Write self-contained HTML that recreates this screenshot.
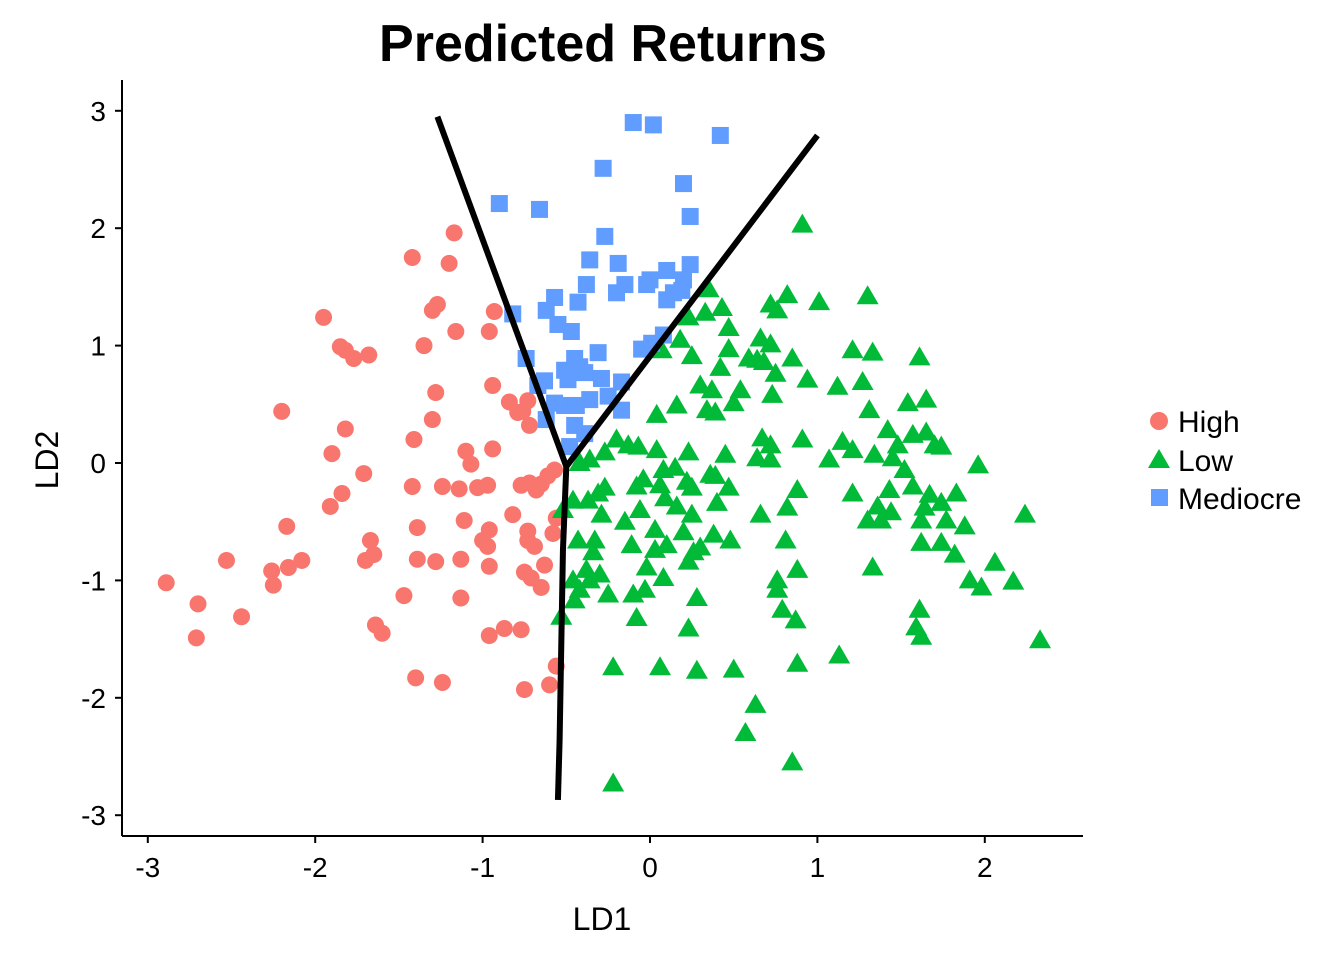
<!DOCTYPE html>
<html><head><meta charset="utf-8">
<style>
body{margin:0;background:#fff;}
svg text{font-family:"Liberation Sans",Arial,sans-serif;}
</style></head>
<body>
<svg id="chart" width="1344" height="960" viewBox="0 0 1344 960" xmlns="http://www.w3.org/2000/svg">
<rect width="1344" height="960" fill="#fff"/>
<text x="603" y="61" font-size="52" font-weight="bold" text-anchor="middle">Predicted Returns</text>
<g id="marks"></g>
<g id="axes"></g>
<text x="602" y="930" font-size="32" text-anchor="middle">LD1</text>
<text x="58" y="460" font-size="32" text-anchor="middle" transform="rotate(-90 58 460)">LD2</text>
<g>
<circle cx="1159" cy="421" r="9" fill="#F8766D"/>
<text x="1178" y="432" font-size="30">High</text>
<polygon points="1159,449 1170,468 1148,468" fill="#00BA38"/>
<text x="1178" y="471" font-size="30">Low</text>
<rect x="1151" y="489" width="17" height="17" fill="#619CFF"/>
<text x="1178" y="509" font-size="30">Mediocre</text>
</g>
</svg>
<script>
const xTicks=[-3,-2,-1,0,1,2];
const yTicks=[-3,-2,-1,0,1,2,3];
const highX=[-2.89,-2.70,-2.71,-2.44,-2.53,-2.25,-2.26,-2.16,-2.08,-2.17,-1.95,-1.85,-1.82,-1.77,-1.68,-2.20,-1.82,-1.90,-1.91,-1.84,-1.71,-1.67,-1.70,-1.65,-1.64,-1.60,-1.47,-1.40,-1.24,-1.42,-1.39,-1.39,-1.28,-1.41,-1.30,-1.28,-1.35,-1.30,-1.27,-1.42,-1.20,-1.17,-1.16,-0.96,-0.93,-0.94,-0.84,-0.79,-0.76,-0.73,-0.72,-1.10,-1.07,-1.14,-1.03,-0.97,-0.94,-1.11,-0.96,-0.97,-1.00,-1.13,-1.13,-0.96,-0.87,-0.77,-0.75,-0.60,-0.56,-0.75,-0.71,-0.65,-0.63,-0.73,-0.69,-0.73,-0.82,-0.77,-0.72,-0.68,-0.61,-0.65,-0.57,-0.56,-0.58,-0.96,-1.24];
const highY=[-1.02,-1.20,-1.49,-1.31,-0.83,-1.04,-0.92,-0.89,-0.83,-0.54,1.24,0.99,0.96,0.89,0.92,0.44,0.29,0.08,-0.37,-0.26,-0.09,-0.66,-0.83,-0.78,-1.38,-1.45,-1.13,-1.83,-1.87,-0.20,-0.55,-0.82,-0.84,0.20,0.37,0.60,1.00,1.30,1.35,1.75,1.70,1.96,1.12,1.12,1.29,0.66,0.52,0.43,0.44,0.53,0.32,0.10,-0.01,-0.22,-0.21,-0.19,0.12,-0.49,-0.57,-0.71,-0.66,-0.82,-1.15,-1.47,-1.41,-1.42,-1.93,-1.89,-1.73,-0.93,-0.98,-1.06,-0.87,-0.66,-0.71,-0.58,-0.44,-0.19,-0.17,-0.23,-0.11,-0.18,-0.06,-0.47,-0.60,-0.88,-0.20];
const medX=[-0.10,0.02,0.42,-0.28,0.20,0.24,-0.90,-0.66,-0.27,-0.36,-0.19,-0.57,-0.38,-0.43,-0.20,-0.15,-0.02,0.10,0.24,0.20,0.10,0.14,0.19,-0.82,-0.62,-0.55,-0.47,-0.31,-0.74,-0.63,-0.67,-0.51,-0.45,-0.42,-0.49,-0.39,-0.29,-0.25,-0.17,-0.57,-0.51,-0.44,-0.36,-0.45,-0.39,-0.48,-0.62,-0.17,-0.05,0.01,0.08,0.00];
const medY=[2.90,2.88,2.79,2.51,2.38,2.10,2.21,2.16,1.93,1.73,1.70,1.41,1.52,1.37,1.45,1.52,1.52,1.64,1.69,1.56,1.39,1.45,1.47,1.27,1.30,1.18,1.12,0.94,0.89,0.70,0.66,0.79,0.89,0.82,0.71,0.77,0.72,0.57,0.69,0.51,0.49,0.49,0.54,0.32,0.25,0.14,0.37,0.45,0.97,1.02,1.09,1.56];
const lowX=[0.91,0.35,0.82,1.01,1.30,0.72,0.76,0.43,0.23,0.33,0.47,0.66,0.72,1.21,1.33,1.61,0.47,0.07,0.18,0.25,0.59,0.64,0.68,0.85,0.42,0.75,0.94,1.12,1.27,0.30,0.37,0.50,0.54,0.73,0.16,0.04,0.34,0.39,1.31,1.54,1.65,1.42,1.57,1.74,1.70,1.65,-0.20,-0.13,-0.07,0.04,-0.27,-0.36,-0.42,0.08,0.15,0.23,0.45,0.67,0.72,0.72,0.64,0.91,1.07,1.15,1.21,1.34,1.48,1.45,1.52,1.96,0.39,0.47,0.36,0.22,0.25,0.06,-0.08,-0.04,-0.27,-0.31,-0.37,-0.46,-0.52,-0.29,-0.15,-0.06,0.09,0.16,0.25,0.40,0.88,0.82,1.21,1.43,1.57,1.67,1.64,1.83,1.74,1.88,1.36,1.30,1.44,1.38,1.62,1.77,1.62,1.74,2.24,0.03,0.20,0.10,0.30,0.48,0.38,0.66,0.81,-0.43,-0.33,-0.34,-0.11,0.03,-0.02,0.23,0.26,0.76,0.88,1.33,1.82,2.06,1.91,1.98,2.17,2.33,1.61,1.59,1.62,-0.38,-0.30,-0.36,-0.42,-0.46,-0.45,-0.25,-0.10,-0.03,0.08,0.28,0.76,0.79,0.87,-0.08,-0.53,0.23,0.88,1.13,-0.22,0.06,0.28,0.50,0.63,0.57,0.85,-0.22];
const lowY=[2.03,1.48,1.43,1.37,1.42,1.35,1.30,1.32,1.24,1.28,1.15,1.06,1.01,0.96,0.94,0.90,0.97,0.96,1.05,0.91,0.89,0.88,0.86,0.89,0.81,0.76,0.71,0.65,0.69,0.66,0.62,0.51,0.62,0.58,0.49,0.41,0.45,0.43,0.45,0.51,0.54,0.28,0.24,0.14,0.15,0.26,0.20,0.15,0.14,0.11,0.09,0.03,0.00,-0.06,-0.04,0.09,0.07,0.21,0.15,0.03,0.04,0.20,0.03,0.18,0.11,0.07,0.15,0.04,-0.06,-0.02,-0.11,-0.21,-0.10,-0.16,-0.21,-0.19,-0.20,-0.14,-0.21,-0.26,-0.32,-0.32,-0.40,-0.44,-0.50,-0.40,-0.30,-0.37,-0.44,-0.34,-0.23,-0.38,-0.26,-0.23,-0.20,-0.27,-0.38,-0.26,-0.34,-0.54,-0.37,-0.49,-0.42,-0.49,-0.49,-0.49,-0.68,-0.68,-0.44,-0.57,-0.59,-0.70,-0.72,-0.66,-0.61,-0.44,-0.66,-0.66,-0.66,-0.76,-0.70,-0.74,-0.89,-0.84,-0.76,-1.00,-0.91,-0.89,-0.78,-0.85,-1.00,-1.06,-1.01,-1.51,-1.25,-1.40,-1.48,-0.91,-0.95,-1.00,-1.08,-1.00,-1.17,-1.12,-1.12,-1.08,-0.98,-1.15,-1.08,-1.25,-1.34,-1.32,-1.31,-1.41,-1.71,-1.64,-1.74,-1.74,-1.77,-1.76,-2.06,-2.30,-2.55,-2.73];
const boundaryA_X=[-1.27,-0.50];const boundaryA_Y=[2.95,-0.03];
const boundaryB_X=[1.00,-0.50];const boundaryB_Y=[2.79,-0.03];
const boundaryC_X=[-0.50,-0.52,-0.54,-0.55];const boundaryC_Y=[-0.03,-0.74,-2.36,-2.87];

const NS='http://www.w3.org/2000/svg';
const sx=v=>650+v*167.4;
const sy=v=>463-v*117.4;
const marks=document.getElementById('marks');
const axes=document.getElementById('axes');
function mk(tag,attrs,parent){const e=document.createElementNS(NS,tag);for(const k in attrs)e.setAttribute(k,attrs[k]);parent.appendChild(e);return e;}

for(let i=0;i<highX.length;i++){
  const e=mk('circle',{cx:sx(highX[i]),cy:sy(highY[i]),r:8.5,fill:'#F8766D'},marks);
  
  
}
for(let i=0;i<lowX.length;i++){
  const x=sx(lowX[i]),y=sy(lowY[i]);
  const e=mk('polygon',{points:`${x},${y-11} ${x+11},${y+8} ${x-11},${y+8}`,fill:'#00BA38'},marks);
  
  
}
for(let i=0;i<medX.length;i++){
  const e=mk('rect',{x:sx(medX[i])-8.5,y:sy(medY[i])-8.5,width:17,height:17,fill:'#619CFF'},marks);
  
  
}
[[boundaryA_X,boundaryA_Y,'boundary-high-mediocre'],[boundaryB_X,boundaryB_Y,'boundary-mediocre-low'],[boundaryC_X,boundaryC_Y,'boundary-high-low']].forEach(([X,Y,n])=>{
  const e=mk('polyline',{points:X.map((v,i)=>sx(v)+','+sy(Y[i])).join(' '),fill:'none',stroke:'#000','stroke-width':6,'stroke-linejoin':'round'},marks);
  
  
});
const xl=mk('line',{x1:122,y1:836,x2:1083,y2:836,stroke:'#000','stroke-width':2},axes);


const yl=mk('line',{x1:122,y1:80,x2:122,y2:836,stroke:'#000','stroke-width':2},axes);


xTicks.forEach(t=>{
  const tk=mk('line',{x1:sx(t),y1:836,x2:sx(t),y2:843,stroke:'#000','stroke-width':2},axes);
  
  
  const tx=mk('text',{x:sx(t),y:877,'font-size':28,'text-anchor':'middle'},axes);
  tx.textContent=t;
  
  
});
yTicks.forEach(t=>{
  const tk=mk('line',{x1:115,y1:sy(t),x2:122,y2:sy(t),stroke:'#000','stroke-width':2},axes);
  
  
  const tx=mk('text',{x:106,y:sy(t)+10,'font-size':28,'text-anchor':'end'},axes);
  tx.textContent=t;
  
  
});
</script>
</body></html>
